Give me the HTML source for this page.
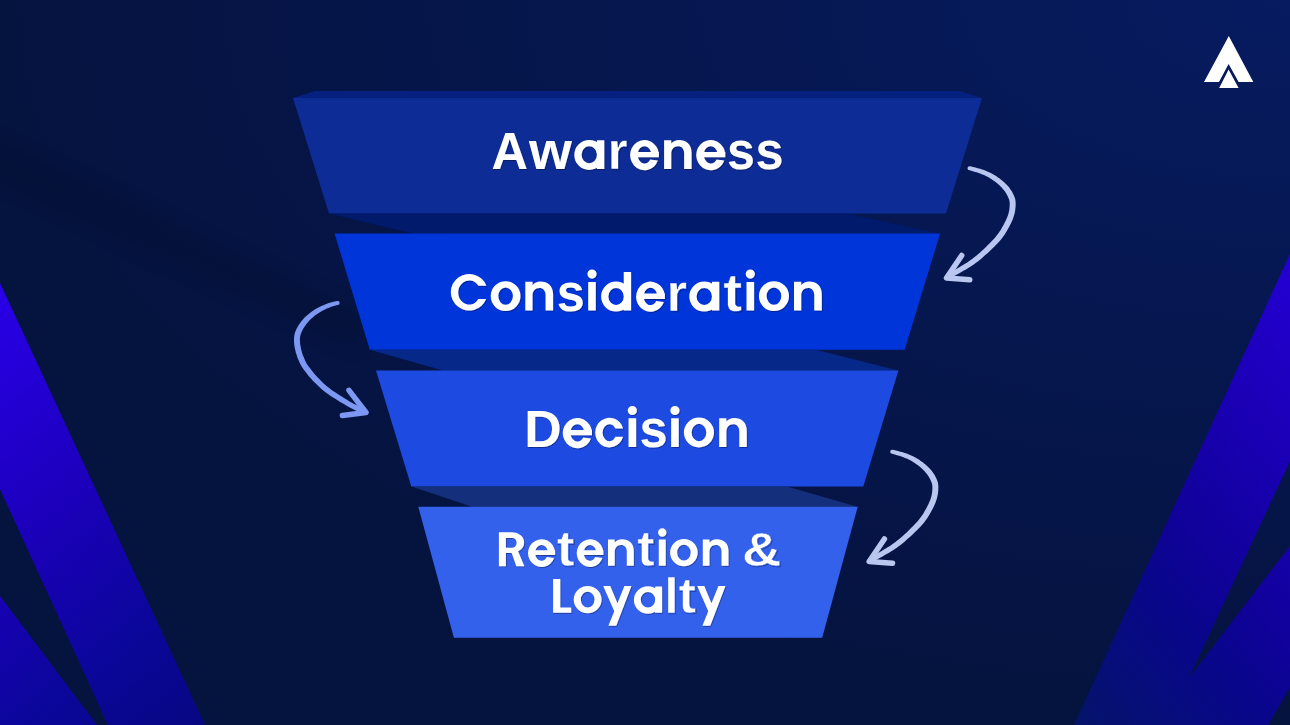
<!DOCTYPE html>
<html><head><meta charset="utf-8">
<style>
html,body{margin:0;padding:0;width:1290px;height:725px;overflow:hidden;background:#07143f;}
svg{display:block;}
text{font-family:"Liberation Sans",sans-serif;font-weight:bold;fill:#fff;}
</style></head>
<body>
<svg width="1290" height="725" viewBox="0 0 1290 725">
<defs>
<radialGradient id="bg" gradientUnits="userSpaceOnUse" cx="1290" cy="0" r="1300" gradientTransform="translate(1290 0) scale(1 0.5385) translate(-1290 0)">
<stop offset="0" stop-color="rgb(6,27,96)"/>
<stop offset="0.5" stop-color="rgb(6,23,79)"/>
<stop offset="1" stop-color="rgb(5,19,63)"/>
</radialGradient>
<linearGradient id="stL" gradientUnits="userSpaceOnUse" x1="0" y1="235.7" x2="326.5" y2="636.1">
<stop offset="0" stop-color="rgb(44,0,240)"/>
<stop offset="0.464" stop-color="rgb(28,0,188)"/>
<stop offset="0.786" stop-color="rgb(10,7,152)"/>
<stop offset="1" stop-color="rgb(7,7,128)"/>
</linearGradient>
<linearGradient id="stR" gradientUnits="userSpaceOnUse" x1="1290" y1="58.9" x2="834.4" y2="442.4">
<stop offset="0" stop-color="rgb(45,0,240)"/>
<stop offset="0.444" stop-color="rgb(26,0,180)"/>
<stop offset="0.652" stop-color="rgb(15,2,152)"/>
<stop offset="0.756" stop-color="rgb(8,7,138)"/>
<stop offset="0.889" stop-color="rgb(6,14,120)"/>
<stop offset="1" stop-color="rgb(5,20,105)"/>
</linearGradient>
<filter id="bl" x="-20%" y="-50%" width="140%" height="200%"><feGaussianBlur stdDeviation="10"/></filter>
<filter id="ts" x="-5%" y="-20%" width="110%" height="140%">
<feDropShadow dx="0.8" dy="1" stdDeviation="0.5" flood-color="#000" flood-opacity="0.35"/>
</filter>
</defs>
<rect width="1290" height="725" fill="url(#bg)"/>
<polygon points="-20,132 360,312 360,352 -20,172" fill="#000" opacity="0.1" filter="url(#bl)"/>
<!-- left stripes -->
<polygon points="0,283 205,725 108,725 0,489" fill="url(#stL)"/>
<polygon points="0,596 97,725 0,725" fill="url(#stL)"/>
<!-- right stripes -->
<polygon points="1290,254 1290,461 1189,678 1290,546 1290,687 1268,725 1074,725" fill="url(#stR)"/>

<!-- layer 1 -->
<polygon points="315,91 960,91 982,98 293,98" fill="#06207f"/>
<polygon points="293,98 982,98 946,213.4 329,213.4" fill="#0e2c95"/>
<!-- strip 1 -->
<polygon points="329,213.4 846,213.4 940,233.6 413,233.6" fill="#021a6c"/>
<!-- layer 2 -->
<polygon points="334.6,233.6 940,233.6 904.7,349.8 369.8,349.8" fill="#0035d9"/>
<!-- strip 2 -->
<polygon points="369.8,349.8 816,349.8 898.4,370.6 443,370.6" fill="#062888"/>
<!-- layer 3 -->
<polygon points="376,370.6 898.4,370.6 863.3,486.4 411.3,486.4" fill="#1d4ae0"/>
<!-- strip 3 -->
<polygon points="411.3,486.4 787,486.4 857.7,506.8 472,506.8" fill="#142f7c"/>
<!-- layer 4 -->
<polygon points="418.3,506.8 857.7,506.8 822.2,637.8 453.9,637.8" fill="#3461ec"/>

<!-- text -->
<g filter="url(#ts)" fill="#fff">
<!-- Awareness -->
<text transform="matrix(0.9625 0 0 1.000 491.54 169.00)" font-size="52.5">A</text>
<text transform="matrix(1.0513 0 0 1.036 528.96 169.00)" font-size="52.5">w</text>
<path transform="matrix(0.9967 0 0 1.0000 574.20 169.00)" d="M0.1 -14.05a15 15 0 1 1 30 0a15 15 0 1 1 -30 0ZM7.4 -14.2a7.7 8.5 0 1 0 15.4 0a7.7 8.5 0 1 0 -15.4 0ZM22.8 -28.8H30.2V0H22.8Z"/>
<text stroke="#0e2c95" stroke-width="0.5" transform="matrix(0.9891 0 0 1.036 607.48 169.00)" font-size="52.5">r</text>
<path transform="matrix(0.9829 0 0 1.0000 630.10 169.00)" d="M28.33 -8.49A14.65 15.1 0 1 1 29.14 -11.69L21.43 -12.89A6.9 8.65 0 1 0 20.42 -9.5ZM7.70 -17.10H29.30V-11.70H7.70Z"/>
<path transform="matrix(0.9964 0 0 1.0000 664.10 169.00)" d="M0 0V-28.8H7.2V-25.4C9 -27.7 11.6 -29 15 -29C22.3 -29 27.6 -24.5 27.6 -16.5V0H20.1V-15.5C20.1 -20 17.8 -22.7 14 -22.7C9.8 -22.7 7.2 -19.7 7.2 -15V0Z"/>
<path transform="matrix(0.9932 0 0 1.0000 696.20 169.00)" d="M28.33 -8.49A14.65 15.1 0 1 1 29.14 -11.69L21.43 -12.89A6.9 8.65 0 1 0 20.42 -9.5ZM7.70 -17.10H29.30V-11.70H7.70Z"/>
<text transform="matrix(0.9564 0 0 1.036 727.03 169.00)" font-size="52.5">s</text>
<text transform="matrix(0.9604 0 0 1.036 755.53 169.00)" font-size="52.5">s</text>
<!-- Consideration -->
<path transform="matrix(1.0042 0 0 1.0000 450.80 310.60)" d="M35.45 -24.8A18.3 18.3 0 1 0 35.25 -11.5L27.4 -11.5A10.9 12.05 0 1 1 27.4 -24.8Z"/>
<path transform="matrix(1.0000 0 0 1.0000 490.70 310.60)" d="M0 -14.5a14.9 14.9 0 1 1 29.8 0a14.9 14.9 0 1 1 -29.8 0ZM7.6 -14.5a7.3 8.65 0 1 0 14.6 0a7.3 8.65 0 1 0 -14.6 0Z"/>
<path transform="matrix(1.0072 0 0 1.0000 525.30 310.60)" d="M0 0V-28.8H7.2V-25.4C9 -27.7 11.6 -29 15 -29C22.3 -29 27.6 -24.5 27.6 -16.5V0H20.1V-15.5C20.1 -20 17.8 -22.7 14 -22.7C9.8 -22.7 7.2 -19.7 7.2 -15V0Z"/>
<text transform="matrix(0.9604 0 0 1.036 556.63 310.60)" font-size="52.5">s</text>
<path transform="matrix(1.0000 0 0 1.0000 588.20 310.60)" d="M0 -28.7H7.6V0H0ZM-0.8 -36.5a4.6 4.6 0 1 0 9.2 0a4.6 4.6 0 1 0 -9.2 0Z"/>
<path transform="matrix(0.9967 0 0 1.0000 601.00 310.60)" d="M0.1 -14.05a15 15 0 1 1 30 0a15 15 0 1 1 -30 0ZM7.4 -14.2a7.7 8.5 0 1 0 15.4 0a7.7 8.5 0 1 0 -15.4 0ZM22.8 -38.6H30.2V0H22.8Z"/>
<path transform="matrix(0.9829 0 0 1.0000 636.10 310.60)" d="M28.33 -8.49A14.65 15.1 0 1 1 29.14 -11.69L21.43 -12.89A6.9 8.65 0 1 0 20.42 -9.5ZM7.70 -17.10H29.30V-11.70H7.70Z"/>
<text stroke="#0035d9" stroke-width="0.5" transform="matrix(1.0015 0 0 1.036 666.53 310.60)" font-size="52.5">r</text>
<path transform="matrix(0.9967 0 0 1.0000 689.20 310.60)" d="M0.1 -14.05a15 15 0 1 1 30 0a15 15 0 1 1 -30 0ZM7.4 -14.2a7.7 8.5 0 1 0 15.4 0a7.7 8.5 0 1 0 -15.4 0ZM22.8 -28.8H30.2V0H22.8Z"/>
<text stroke="#0035d9" stroke-width="0.5" transform="matrix(1.0802 0 0 1.040 723.31 310.60)" font-size="52.5">t</text>
<path transform="matrix(1.0000 0 0 1.0000 746.50 310.60)" d="M0 -28.7H7.6V0H0ZM-0.8 -36.5a4.6 4.6 0 1 0 9.2 0a4.6 4.6 0 1 0 -9.2 0Z"/>
<path transform="matrix(1.0101 0 0 1.0000 758.90 310.60)" d="M0 -14.5a14.9 14.9 0 1 1 29.8 0a14.9 14.9 0 1 1 -29.8 0ZM7.6 -14.5a7.3 8.65 0 1 0 14.6 0a7.3 8.65 0 1 0 -14.6 0Z"/>
<path transform="matrix(1.0072 0 0 1.0000 794.00 310.60)" d="M0 0V-28.8H7.2V-25.4C9 -27.7 11.6 -29 15 -29C22.3 -29 27.6 -24.5 27.6 -16.5V0H20.1V-15.5C20.1 -20 17.8 -22.7 14 -22.7C9.8 -22.7 7.2 -19.7 7.2 -15V0Z"/>
<!-- Decision -->
<text transform="matrix(0.9877 0 0 1.000 524.33 447.00)" font-size="52.5">D</text>
<path transform="matrix(0.9966 0 0 1.0000 562.80 447.00)" d="M28.33 -8.49A14.65 15.1 0 1 1 29.14 -11.69L21.43 -12.89A6.9 8.65 0 1 0 20.42 -9.5ZM7.70 -17.10H29.30V-11.70H7.70Z"/>
<path transform="matrix(0.9964 0 0 1.0000 595.20 447.00)" d="M28 -18.6A14.3 14.8 0 1 0 28 -10.2L20.3 -10.2A6.9 8.5 0 1 1 20.25 -18.6Z"/>
<path transform="matrix(1.0000 0 0 1.0000 628.55 447.00)" d="M0 -28.7H7.6V0H0ZM-0.8 -36.5a4.6 4.6 0 1 0 9.2 0a4.6 4.6 0 1 0 -9.2 0Z"/>
<text transform="matrix(0.9643 0 0 1.036 639.52 447.00)" font-size="52.5">s</text>
<path transform="matrix(1.0000 0 0 1.0000 671.15 447.00)" d="M0 -28.7H7.6V0H0ZM-0.8 -36.5a4.6 4.6 0 1 0 9.2 0a4.6 4.6 0 1 0 -9.2 0Z"/>
<path transform="matrix(1.0101 0 0 1.0000 683.90 447.00)" d="M0 -14.5a14.9 14.9 0 1 1 29.8 0a14.9 14.9 0 1 1 -29.8 0ZM7.6 -14.5a7.3 8.65 0 1 0 14.6 0a7.3 8.65 0 1 0 -14.6 0Z"/>
<path transform="matrix(1.0000 0 0 1.0000 719.20 447.00)" d="M0 0V-28.8H7.2V-25.4C9 -27.7 11.6 -29 15 -29C22.3 -29 27.6 -24.5 27.6 -16.5V0H20.1V-15.5C20.1 -20 17.8 -22.7 14 -22.7C9.8 -22.7 7.2 -19.7 7.2 -15V0Z"/>
<!-- Retention& -->
<path d="M498.9 532.2H505.9V566.3H498.9ZM505.9 532.2H512.5A11.6 10.35 0 0 1 512.5 552.9H505.9V547.7H512.5A4.1 4.9 0 0 0 512.5 537.9H505.9ZM510.8 550.5L517.8 550.5L524.4 566.3L516.3 566.3Z"/>
<path transform="matrix(0.9249 0 0 0.9143 528.00 565.80)" d="M28.33 -8.49A14.65 15.1 0 1 1 29.14 -11.69L21.43 -12.89A6.9 8.65 0 1 0 20.42 -9.5ZM7.70 -17.10H29.30V-11.70H7.70Z"/>
<text stroke="#3461ec" stroke-width="0.5" transform="matrix(1.1139 0 0 1.054 556.75 565.80)" font-size="48">t</text>
<path transform="matrix(0.9113 0 0 0.9143 576.70 565.80)" d="M28.33 -8.49A14.65 15.1 0 1 1 29.14 -11.69L21.43 -12.89A6.9 8.65 0 1 0 20.42 -9.5ZM7.70 -17.10H29.30V-11.70H7.70Z"/>
<path transform="matrix(0.9348 0 0 0.9143 608.00 565.80)" d="M0 0V-28.8H7.2V-25.4C9 -27.7 11.6 -29 15 -29C22.3 -29 27.6 -24.5 27.6 -16.5V0H20.1V-15.5C20.1 -20 17.8 -22.7 14 -22.7C9.8 -22.7 7.2 -19.7 7.2 -15V0Z"/>
<text stroke="#3461ec" stroke-width="0.5" transform="matrix(1.0869 0 0 1.054 637.26 565.80)" font-size="48">t</text>
<path transform="matrix(0.9143 0 0 0.9143 658.78 565.80)" d="M0 -28.7H7.6V0H0ZM-0.8 -36.5a4.6 4.6 0 1 0 9.2 0a4.6 4.6 0 1 0 -9.2 0Z"/>
<path transform="matrix(0.9262 0 0 0.9143 670.10 565.80)" d="M0 -14.5a14.9 14.9 0 1 1 29.8 0a14.9 14.9 0 1 1 -29.8 0ZM7.6 -14.5a7.3 8.65 0 1 0 14.6 0a7.3 8.65 0 1 0 -14.6 0Z"/>
<path transform="matrix(0.9312 0 0 0.9143 702.80 565.80)" d="M0 0V-28.8H7.2V-25.4C9 -27.7 11.6 -29 15 -29C22.3 -29 27.6 -24.5 27.6 -16.5V0H20.1V-15.5C20.1 -20 17.8 -22.7 14 -22.7C9.8 -22.7 7.2 -19.7 7.2 -15V0Z"/>
<text stroke="#3461ec" stroke-width="0.5" transform="matrix(1.1399 0 0 1.020 741.90 565.80)" font-size="48">&amp;</text>
<!-- Loyalty -->
<path d="M553.1 579.1H560.3V607.6H571.2V612.8H553.1Z"/>
<path transform="matrix(0.9362 0 0 0.9143 573.70 612.80)" d="M0 -14.5a14.9 14.9 0 1 1 29.8 0a14.9 14.9 0 1 1 -29.8 0ZM7.6 -14.5a7.3 8.65 0 1 0 14.6 0a7.3 8.65 0 1 0 -14.6 0Z"/>
<path d="M624.4 585.9L631.5 585.9L616.3 625.8L608.4 625.8ZM603.2 585.9L610.3 585.9L620.5 610.5L615.5 614.0Z"/>
<path transform="matrix(0.9371 0 0 0.9143 633.80 612.80)" d="M0.1 -14.05a15 15 0 1 1 30 0a15 15 0 1 1 -30 0ZM7.4 -14.2a7.7 8.5 0 1 0 15.4 0a7.7 8.5 0 1 0 -15.4 0ZM22.8 -28.8H30.2V0H22.8Z"/>
<text stroke="#3461ec" stroke-width="0.3" transform="matrix(1.0477 0 0 1.030 664.49 612.80)" font-size="48">l</text>
<text stroke="#3461ec" stroke-width="0.5" transform="matrix(1.0937 0 0 1.054 678.56 612.80)" font-size="48">t</text>
<path d="M718.4 585.9L725.5 585.9L710.3 625.8L702.4 625.8ZM697.2 585.9L704.3 585.9L714.5 610.5L709.5 614.0Z"/>
</g>

<!-- arrows -->
<g id="a1">
<path fill="#b9c6f0" d="M969.0 170.1L970.3 170.5 972.1 171.0 974.3 171.7 976.5 172.3 978.7 173.0 980.7 173.7 982.3 174.4 984.0 175.1 985.5 175.8 987.0 176.5 988.5 177.3 990.0 178.2 991.6 179.3 993.3 180.4 994.9 181.6 996.5 182.8 998.0 184.1 999.4 185.2 1000.6 186.4 1001.7 187.6 1002.7 188.7 1003.7 189.9 1004.6 191.0 1005.4 192.3 1006.2 193.5 1006.9 194.8 1007.6 196.1 1008.2 197.4 1008.7 198.6 1009.1 199.8 1009.4 200.8 1009.6 201.9 1009.7 202.9 1009.7 204.0 1009.7 205.2 1009.6 206.4 1009.5 207.7 1009.4 209.0 1009.2 210.3 1008.9 211.7 1008.6 213.1 1008.2 214.5 1007.7 216.0 1007.1 217.5 1006.4 219.1 1005.7 220.7 1004.9 222.3 1004.0 224.0 1003.1 225.8 1002.0 227.6 1001.0 229.4 999.8 231.2 998.6 232.9 997.4 234.6 996.1 236.3 994.7 237.9 993.3 239.4 991.8 241.0 990.2 242.7 988.6 244.3 986.9 246.0 985.2 247.7 983.4 249.4 981.6 251.0 979.8 252.7 978.0 254.2 976.3 255.7 974.5 257.1 972.8 258.5 971.0 259.8 969.2 261.1 967.3 262.4 965.4 263.6 963.4 264.8 961.3 266.0 959.3 267.2 957.2 268.4 955.3 269.5 953.4 270.6 951.5 271.8 949.7 272.9 948.1 273.9 946.7 274.7 945.7 275.4 L948.3 279.6 949.3 279.0 950.7 278.2 952.3 277.2 954.2 276.1 956.1 275.0 957.9 273.9 959.8 272.9 961.8 271.7 963.9 270.6 966.0 269.4 968.2 268.1 970.3 266.8 972.2 265.5 974.1 264.2 976.0 262.8 977.9 261.4 979.7 259.9 981.6 258.4 983.4 256.8 985.3 255.1 987.2 253.4 989.1 251.7 990.9 250.0 992.6 248.3 994.3 246.7 995.9 245.0 997.5 243.4 999.0 241.7 1000.6 240.0 1002.0 238.2 1003.4 236.3 1004.7 234.4 1005.9 232.4 1007.1 230.5 1008.2 228.6 1009.2 226.8 1010.1 225.0 1011.0 223.2 1011.8 221.5 1012.6 219.7 1013.2 218.0 1013.8 216.3 1014.3 214.6 1014.7 213.0 1015.0 211.4 1015.3 209.8 1015.4 208.3 1015.6 206.8 1015.6 205.4 1015.7 204.0 1015.6 202.5 1015.5 201.1 1015.3 199.6 1014.9 198.0 1014.3 196.5 1013.7 194.9 1012.9 193.4 1012.1 191.8 1011.2 190.4 1010.2 188.9 1009.2 187.6 1008.1 186.2 1007.0 184.9 1005.7 183.7 1004.4 182.4 1003.0 181.2 1001.4 179.9 999.7 178.6 998.0 177.4 996.2 176.1 994.3 175.0 992.6 174.0 990.8 173.0 989.1 172.2 987.4 171.5 985.7 170.8 984.0 170.1 982.1 169.5 980.1 168.8 977.7 168.2 975.4 167.6 973.2 167.0 971.3 166.6 970.0 166.3ZM967.5 168.2a2.00 2.00 0 1 0 4.00 0a2.00 2.00 0 1 0 -4.00 0ZM944.5 277.5a2.50 2.50 0 1 0 5.00 0a2.50 2.50 0 1 0 -5.00 0Z"/>
<path fill="none" stroke="#b9c6f0" stroke-linecap="round" stroke-linejoin="round" stroke-width="5.5" d="M961.7 255.5 L946.5 278 L969.8 279.7"/>
</g>
<use href="#a1" transform="translate(-77.3 283.5)"/>
<g>
<path fill="#7d98f2" d="M337.2 301.0L336.1 301.2 334.6 301.6 332.8 302.0 330.9 302.5 328.8 303.1 326.9 303.7 325.1 304.5 323.2 305.2 321.3 306.1 319.4 307.0 317.5 308.0 315.7 309.0 314.0 310.1 312.3 311.2 310.6 312.4 309.0 313.7 307.5 315.0 306.0 316.3 304.6 317.6 303.3 319.1 302.0 320.5 300.8 322.0 299.7 323.5 298.7 324.9 297.8 326.4 297.0 327.9 296.2 329.4 295.6 330.9 295.0 332.4 294.6 334.0 294.3 335.6 294.1 337.2 294.0 338.7 294.0 340.2 294.0 341.7 294.1 343.2 294.3 344.9 294.5 346.5 294.8 348.2 295.2 349.8 295.6 351.4 295.9 352.9 296.4 354.3 296.8 355.6 297.2 356.9 297.7 358.2 298.3 359.4 298.8 360.7 299.3 361.9 299.8 363.0 300.4 364.3 301.1 365.6 302.0 367.1 303.1 368.8 304.4 370.6 306.0 372.6 307.7 374.8 309.5 377.0 311.4 379.1 313.3 381.2 315.2 383.1 317.3 385.1 319.3 387.0 321.4 388.9 323.6 390.7 325.8 392.5 328.0 394.1 330.3 395.7 332.6 397.2 334.9 398.6 337.2 400.0 339.4 401.4 341.6 402.7 343.9 404.1 346.2 405.4 348.4 406.7 350.6 407.9 352.8 409.1 355.0 410.2 357.3 411.3 359.5 412.3 361.5 413.2 363.2 414.0 364.4 414.6 L366.6 410.0 365.3 409.4 363.6 408.7 361.6 407.7 359.5 406.7 357.3 405.6 355.2 404.5 353.2 403.4 351.0 402.2 348.8 400.9 346.6 399.6 344.4 398.2 342.2 396.8 340.0 395.4 337.8 394.0 335.6 392.6 333.4 391.2 331.3 389.7 329.2 388.1 327.2 386.5 325.1 384.7 323.1 382.9 321.2 381.0 319.3 379.1 317.5 377.2 315.7 375.3 313.9 373.2 312.2 371.1 310.6 369.0 309.1 367.1 307.9 365.4 306.9 364.0 306.2 362.8 305.7 361.7 305.2 360.7 304.7 359.5 304.2 358.3 303.7 357.1 303.2 356.0 302.8 354.9 302.4 353.7 302.0 352.6 301.7 351.3 301.3 350.0 301.0 348.5 300.7 347.0 300.4 345.6 300.2 344.1 300.1 342.8 300.0 341.4 299.9 340.1 299.9 338.9 300.0 337.7 300.2 336.6 300.4 335.4 300.7 334.2 301.2 333.1 301.7 331.8 302.3 330.6 302.9 329.3 303.7 328.1 304.5 326.7 305.4 325.4 306.4 324.0 307.5 322.7 308.6 321.4 309.8 320.1 311.0 318.9 312.4 317.7 313.8 316.5 315.2 315.3 316.8 314.2 318.3 313.2 319.9 312.2 321.6 311.2 323.3 310.3 325.1 309.4 326.8 308.6 328.5 307.9 330.2 307.2 332.1 306.6 333.9 306.0 335.6 305.6 337.1 305.1 338.2 304.8ZM335.7 302.9a2.00 2.00 0 1 0 4.00 0a2.00 2.00 0 1 0 -4.00 0ZM363.0 412.3a2.50 2.50 0 1 0 5.00 0a2.50 2.50 0 1 0 -5.00 0Z"/>
<path fill="none" stroke="#7d98f2" stroke-linecap="round" stroke-linejoin="round" stroke-width="5.5" d="M349 390.3 L366 412.5 L342.4 415.6"/>
</g>

<!-- logo -->
<g fill="#fff">
<polygon points="1228.8,35.9 1253.3,81.9 1238.6,81.9 1228.6,64.1 1219,81.9 1204,81.9"/>
<polygon points="1228.6,69.5 1238.6,87.9 1219.2,87.9"/>
</g>
</svg>
</body></html>
